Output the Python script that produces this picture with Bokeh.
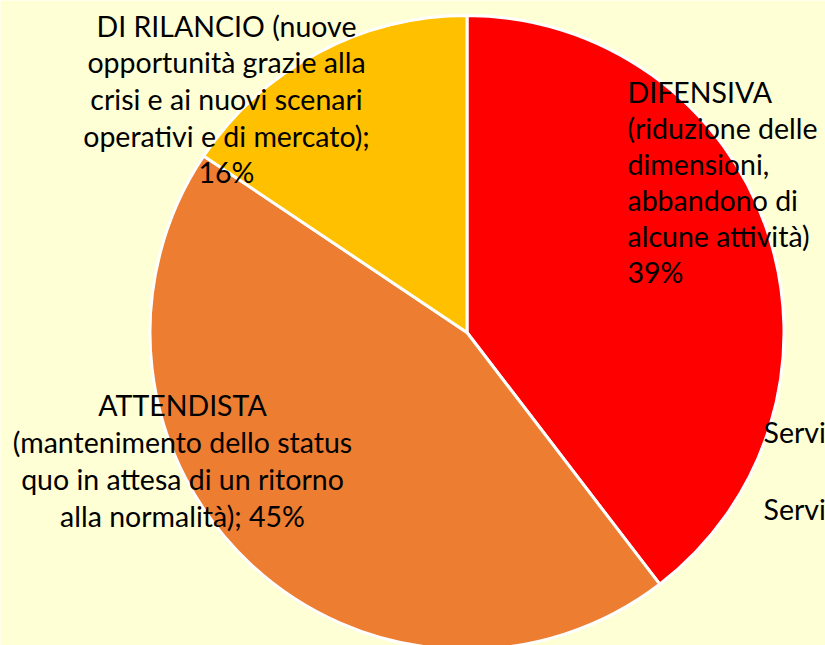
import numpy as np
from bokeh.plotting import figure
from bokeh.models import Range1d, ColumnDataSource
from bokeh.core.properties import value
from bokeh.embed import file_html
from bokeh.resources import INLINE

# ---- data ----
categories = ["DIFENSIVA", "ATTENDISTA", "DI RILANCIO"]
shares = [39.6, 44.8, 15.6]
pct_labels = ["39%", "45%", "16%"]
colors = ["#FF0000", "#ED7D31", "#FFC000"]

difensiva_lines = [categories[0], "(riduzione delle", "dimensioni,", "abbandono di",
                   "alcune attività)", pct_labels[0]]
attendista_lines = [categories[1], "(mantenimento dello status", "quo in attesa di un ritorno",
                    "alla normalità); " + pct_labels[1]]
rilancio_lines = [categories[2] + " (nuove", "opportunità grazie alla", "crisi e ai nuovi scenari",
                  "operativi e di mercato);", pct_labels[2]]
legend_texts = ["Servizi", "Servizi"]

# ---- layout (page px -> data) ----
W, H = 825, 645
SHIFT = -11  # baseline correction
def fx(X):
    return X
def fy(Y):
    return H - Y

BG = "#FFFFD5"
FONT = value("Lato")
FS = "28.5px"

p = figure(width=W, height=H, output_backend="svg", toolbar_location=None,
           x_range=Range1d(0, W), y_range=Range1d(0, H), min_border=0)
p.axis.visible = False
p.grid.visible = False
p.outline_line_color = None
p.background_fill_color = BG
p.border_fill_color = BG

cx, cy, R = fx(466.5), fy(332), 317
fr = np.array(shares) / sum(shares)
cum = np.concatenate([[0], np.cumsum(fr)])
start = np.pi / 2 - 2 * np.pi * cum[:-1]
end = np.pi / 2 - 2 * np.pi * cum[1:]
src = ColumnDataSource(dict(start=start, end=end, color=colors, cat=categories))
p.wedge(x=cx, y=cy, radius=R, start_angle="start", end_angle="end", direction="clock",
        fill_color="color", line_color="white", line_width=3, source=src)

def put_lines(lines, X, Y0, step, align):
    xs = [fx(X)] * len(lines)
    ys = [fy(Y0 + SHIFT + i * step) for i in range(len(lines))]
    p.text(x=xs, y=ys, text=lines, text_font=FONT, text_font_size=FS,
           text_align=align, text_baseline="alphabetic", text_color="black")

put_lines(difensiva_lines, 627, 102, 36, "left")
put_lines(rilancio_lines, 226, 36, 36.7, "center")
put_lines(attendista_lines, 182, 415, 37.3, "center")
put_lines(legend_texts[:1], 763, 442, 0, "left")
put_lines(legend_texts[1:], 763, 519, 0, "left")

open("out.html", "w").write(file_html(p, INLINE))
